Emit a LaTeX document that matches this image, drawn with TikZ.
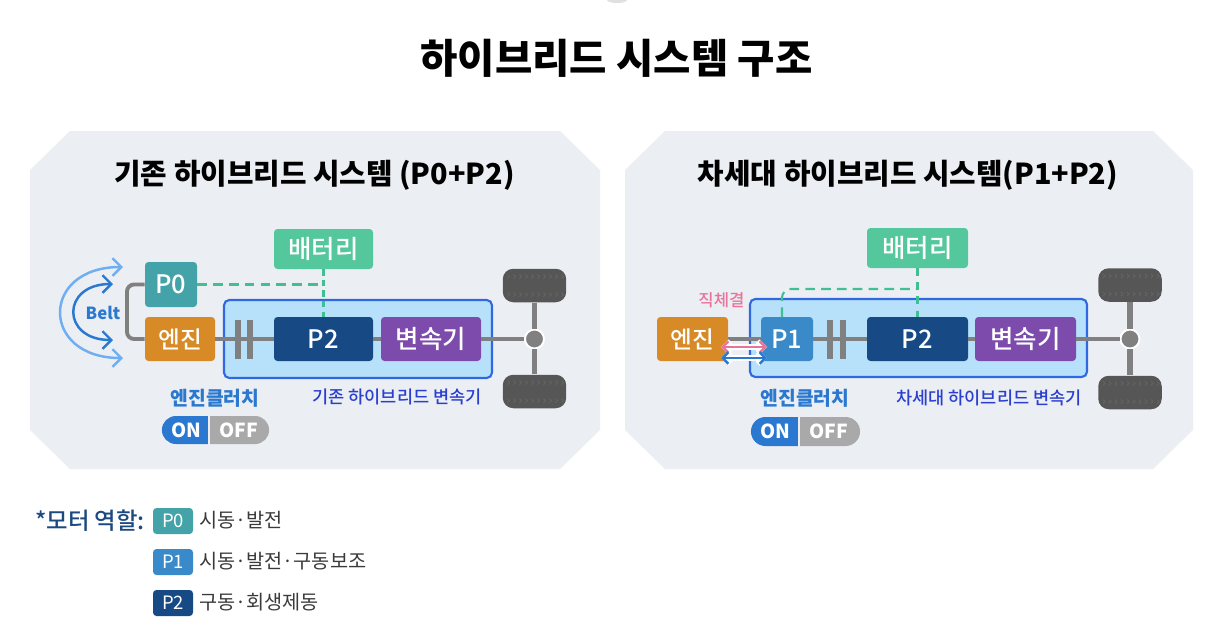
\documentclass[tikz,border=0pt]{standalone}
\usepackage{fontspec}
\setmainfont{Noto Sans CJK KR}
\newfontfamily\mediumfont{Noto Sans CJK KR Medium}
\usetikzlibrary{arrows.meta, shapes.misc}

\definecolor{panelbg}{HTML}{EBEFF4}
\definecolor{geartray}{HTML}{B7E1FB}
\definecolor{trayline}{HTML}{2F68E0}
\definecolor{pzero}{HTML}{44A3A8}
\definecolor{pone}{HTML}{3A8AC9}
\definecolor{ptwo}{HTML}{174A85}
\definecolor{engine}{HTML}{D78A25}
\definecolor{battery}{HTML}{55C79C}
\definecolor{linkgreen}{HTML}{3FBF92}
\definecolor{gearbox}{HTML}{7C4BAC}
\definecolor{shaftgray}{HTML}{808080}
\definecolor{clutchblue}{HTML}{2A78D0}
\definecolor{traytext}{HTML}{2B3FCF}
\definecolor{offgray}{HTML}{A9A9A9}
\definecolor{pinkline}{HTML}{E8749A}
\definecolor{lightbelt}{HTML}{6FAEF0}
\definecolor{tyre}{HTML}{565656}
\definecolor{tread}{HTML}{646464}
\definecolor{legendtext}{HTML}{3A3A3A}
\definecolor{legendhead}{HTML}{1C4A80}

\tikzset{
  box/.style={rectangle, rounded corners=2pt, text=white, inner sep=0pt, align=center},
  boxsize/.style 2 args={minimum width=#1*0.02cm, minimum height=#2*0.02cm},
  tray/.style={rectangle, draw=trayline, fill=geartray, line width=1.2pt, rounded corners=3pt},
  shaft/.style={draw=shaftgray, line width=2.2pt},
  link/.style={draw=linkgreen, line width=1.2pt, dash pattern=on 5.5pt off 3.5pt},
  uplink/.style={draw=linkgreen, line width=1.3pt, dash pattern=on 4.5pt off 3.5pt},
  thinlink/.style={draw=linkgreen, line width=1.25pt, dash pattern=on 3.5pt off 2.5pt},
  clutchbar/.style={rectangle, fill=shaftgray, inner sep=0pt, minimum width=0.12cm, minimum height=0.78cm},
  hub/.style={circle, fill=shaftgray, draw=white, line width=1.1pt, inner sep=0pt, minimum size=0.38cm},
  tyrebody/.style={rectangle, fill=tyre, rounded corners=6pt, inner sep=0pt, minimum width=1.27cm, minimum height=0.67cm},
  pill/.style={rounded rectangle, inner sep=0pt, text=white, font=\fontsize{11}{14}\bfseries},
  clutchlabel/.style={font=\fontsize{11}{13}\bfseries, text=clutchblue, inner sep=0pt},
  traylabel/.style={font=\fontsize{10}{12}\mediumfont, text=traytext, inner sep=0pt},
  chip/.style={box, boxsize={40}{26}, font=\fontsize{10.5}{12}\selectfont},
  legend/.style={font=\fontsize{11.2}{13}\selectfont, text=legendtext, inner sep=0pt, anchor=west},
  beltarrow/.style={{Straight Barb[length=5pt, width=10pt]}-{Straight Barb[length=5pt, width=10pt]}, line width=1.4pt},
  bothways/.style={{Straight Barb[length=3.2pt, width=6.5pt]}-{Straight Barb[length=3.2pt, width=6.5pt]}, line width=1.4pt},
  pics/tyrepic/.style={code={
    \node[tyrebody] (-body) at (0,0) {};
    \foreach \k in {-26,-20,...,28} {
      \draw[tread, line width=0.45pt] (\k-1,-11) -- (\k+1,-9) -- (\k-1,-7);
      \draw[tread, line width=0.45pt] (\k-1,7) -- (\k+1,9) -- (\k-1,11);
    }
  }}
}

\begin{document}
\begin{tikzpicture}[x=0.02cm, y=-0.02cm]
\useasboundingbox (0,0) rectangle (1232,640);
\fill[white] (0,0) rectangle (1232,640);
\fill[black!12] (617,0) ellipse (10 and 3);

% Title
\node[font=\fontsize{23.1}{28}\bfseries, inner sep=0pt] (title) at (616.5,58) {하이브리드 시스템 구조};

% Panels
\fill[panelbg] (70,131) -- (560,131) -- (600,170) -- (600,430) -- (560,469) -- (70,469) -- (30,430) -- (30,170) -- cycle;
\fill[panelbg] (665,131) -- (1153,131) -- (1193,170) -- (1193,430) -- (1153,469) -- (665,469) -- (625,430) -- (625,170) -- cycle;
\node[font=\fontsize{16.4}{20}\bfseries, inner sep=0pt] (ltitle) at (314.5,175) {기존 하이브리드 시스템 (P0+P2)};
\node[font=\fontsize{16.4}{20}\bfseries, inner sep=0pt] (rtitle) at (908,175) {차세대 하이브리드 시스템(P1+P2)};

% Left system
\node[tray, boxsize={268}{78}] (ltray) at (358,339) {};
\node[box, fill=battery, boxsize={99}{40}, font=\fontsize{14.5}{16}\mediumfont] (lbatt) at (323.5,249) {배터리};
\node[box, fill=pzero, boxsize={52}{45}, font=\fontsize{14.5}{16}\mediumfont] (p0) at (171,284.5) {P0};
\node[box, fill=engine, boxsize={70}{44}, font=\fontsize{13.5}{16}\mediumfont] (lengine) at (180,339) {엔진};
\node[box, fill=ptwo, boxsize={99}{44}, font=\fontsize{14.5}{16}\mediumfont] (lp2) at (323.5,339) {P2};
\node[box, fill=gearbox, boxsize={100}{44}, font=\fontsize{14.5}{16}\mediumfont] (lgear) at (431,339) {변속기};
\node[hub] (lhub) at (534.5,339) {};
\pic (ltop) at (534.5,285.5) {tyrepic};
\pic (lbot) at (534.5,391.5) {tyrepic};
\coordinate (lbend) at (127,339);
\coordinate (lcorner) at (323.5,284.5);

\draw[shaft] (lengine.east) -- (lp2.west);
\draw[shaft] (lp2.east) -- (lgear.west);
\draw[shaft] (lgear.east) -- (lhub.west);
\draw[shaft, line width=3pt] (ltop-body.south) -- (lhub.north);
\draw[shaft, line width=3pt] (lhub.south) -- (lbot-body.north);
\draw[shaft, rounded corners=4pt] (p0.west) -| (lbend) -- (lengine.west);
\draw[link] (p0.east) -- (lcorner);
\draw[thinlink] (lbatt.south) -- (lp2.north);
\node[clutchbar] (lbar1) at (238,339) {};
\node[clutchbar] (lbar2) at (250,339) {};

% Belt
\coordinate (lighta) at (123,267);
\coordinate (lightb) at (123,358);
\coordinate (darka) at (113,284);
\coordinate (darkb) at (113,340);
\draw[beltarrow, draw=lightbelt] (lightb) .. controls (40,358) and (40,267) .. (lighta);
\draw[beltarrow, draw=clutchblue] (darkb) .. controls (61,340) and (61,284) .. (darka);
\node[font=\fontsize{9.5}{11}\bfseries, text=clutchblue, inner sep=0pt] (belt) at (103,313) {Belt};

\node[clutchlabel] (lclutch) at (215,398) {엔진클러치};
\node[traylabel] (ltraytext) at (397,397) {기존 하이브리드 변속기};
\node[pill, fill=clutchblue, rounded rectangle right arc=none, boxsize={46}{28}] (lon) at (186,430) {ON};
\node[pill, fill=offgray, rounded rectangle left arc=none, boxsize={59}{28}] (loff) at (238.5,430) {OFF};

% Right system
\node[tray, boxsize={337}{78}] (rtray) at (918.5,338) {};
\node[box, fill=battery, boxsize={101}{40}, font=\fontsize{14.5}{16}\mediumfont] (rbatt) at (917.5,248) {배터리};
\node[box, fill=engine, boxsize={71}{44}, font=\fontsize{13.5}{16}\mediumfont] (rengine) at (692.5,339) {엔진};
\node[box, fill=pone, boxsize={52}{44}, font=\fontsize{14.5}{16}\mediumfont] (p1) at (787,339) {P1};
\node[box, fill=ptwo, boxsize={101}{44}, font=\fontsize{14.5}{16}\mediumfont] (rp2) at (917.5,339) {P2};
\node[box, fill=gearbox, boxsize={101}{44}, font=\fontsize{14.5}{16}\mediumfont] (rgear) at (1025.5,339) {변속기};
\node[hub] (rhub) at (1130,339) {};
\pic (rtop) at (1130,285) {tyrepic};
\pic (rbot) at (1130,392.5) {tyrepic};
\coordinate (rturn) at (782,289);
\coordinate (rcorner) at (917.5,289);
\coordinate (p1top) at (782,317);

\draw[shaft] (rengine.east) -- (p1.west);
\draw[shaft] (p1.east) -- (rp2.west);
\draw[shaft] (rp2.east) -- (rgear.west);
\draw[shaft] (rgear.east) -- (rhub.west);
\draw[shaft, line width=3pt] (rtop-body.south) -- (rhub.north);
\draw[shaft, line width=3pt] (rhub.south) -- (rbot-body.north);
\draw[uplink] (rbatt.south) -- (rp2.north);
\draw[link, rounded corners=5pt] (p1top) -- (rturn) -- (rcorner);
\node[clutchbar] (rbar1) at (830,339) {};
\node[clutchbar] (rbar2) at (843,339) {};

% Direct coupling
\coordinate (pinka) at (721,347);
\coordinate (pinkb) at (767,347);
\coordinate (bluea) at (721,358);
\coordinate (blueb) at (767,358);
\draw[bothways, draw=white, line width=3pt] (pinka) -- (pinkb);
\draw[bothways, draw=white, line width=3pt] (bluea) -- (blueb);
\draw[bothways, draw=pinkline] (pinka) -- (pinkb);
\draw[bothways, draw=clutchblue] (bluea) -- (blueb);
\node[font=\fontsize{9.5}{11}\mediumfont, text=pinkline, inner sep=0pt] (direct) at (721.5,300) {직체결};

\node[clutchlabel] (rclutch) at (805,398) {엔진클러치};
\node[traylabel] (rtraytext) at (989,398) {차세대 하이브리드 변속기};
\node[pill, fill=clutchblue, rounded rectangle right arc=none, boxsize={47}{29}] (ron) at (775.5,431.5) {ON};
\node[pill, fill=offgray, rounded rectangle left arc=none, boxsize={60}{29}] (roff) at (829,431.5) {OFF};

% Legend
\node[font=\fontsize{13.3}{15}\mediumfont, text=legendhead, inner sep=0pt, anchor=west] (legendhead) at (35,521) {*모터 역할:};
\node[chip, fill=pzero] (chip0) at (173,521) {P0};
\node[chip, fill=pone] (chip1) at (173,562) {P1};
\node[chip, fill=ptwo] (chip2) at (173,603) {P2};
\node[legend] (role0) at (199,520) {시동·발전};
\node[legend] (role1) at (199,561) {시동·발전·구동보조};
\node[legend] (role2) at (199,602) {구동·회생제동};

\end{tikzpicture}
\end{document}
